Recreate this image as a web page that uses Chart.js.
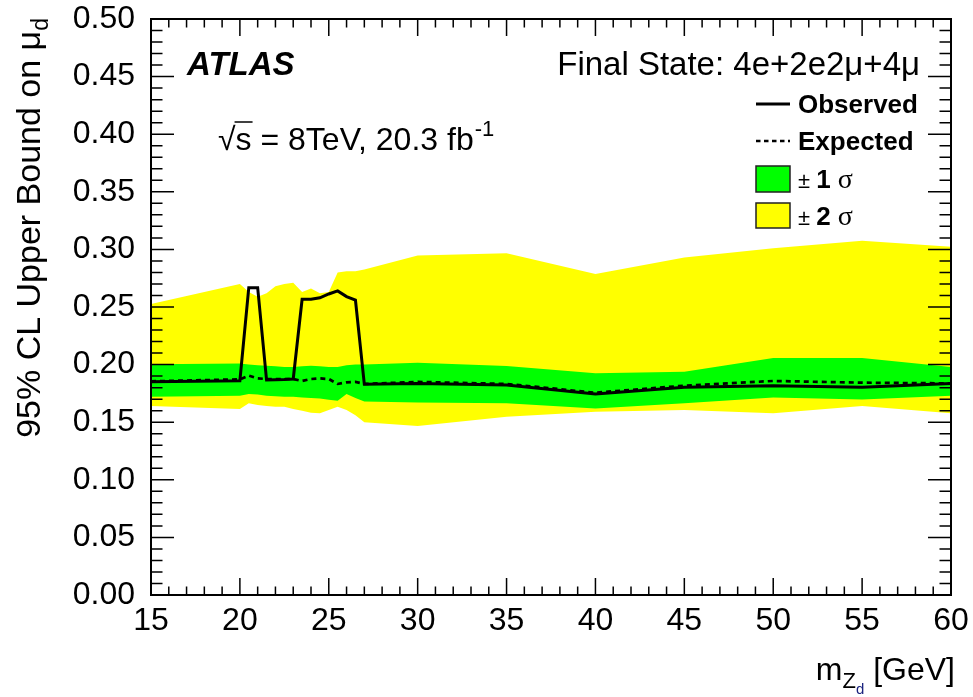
<!DOCTYPE html>
<html>
<head>
<meta charset="utf-8">
<script src="https://cdn.jsdelivr.net/npm/chart.js@4.4.1/dist/chart.umd.min.js"></script>
<style>
  html, body { margin: 0; padding: 0; background: #fff; }
  #limit { display: block; }
</style>
</head>
<body>
<canvas id="limit" width="973" height="697"></canvas>
<script>
// Z_d mass points and 95% CL limits
var MASS      = [15, 20, 20.5, 21, 21.5, 22, 22.5, 23, 23.5, 24, 24.5, 25, 25.5, 26, 26.5, 27, 30, 35, 40, 45, 50, 55, 60];
var OBSERVED  = [0.1852, 0.1860, 0.2668, 0.2668, 0.1866, 0.1868, 0.1870, 0.1875, 0.2567, 0.2567, 0.2580, 0.2613, 0.2640, 0.2590, 0.2560, 0.1829, 0.1837, 0.1823, 0.1745, 0.1803, 0.1817, 0.1803, 0.1837];
var EXPECTED  = [0.1855, 0.1872, 0.1904, 0.1880, 0.1875, 0.1875, 0.1875, 0.1875, 0.1858, 0.1875, 0.1880, 0.1875, 0.1832, 0.1846, 0.1850, 0.1832, 0.1850, 0.1832, 0.1756, 0.1817, 0.1858, 0.1843, 0.1837];
var SIGMA1_UP = [0.2002, 0.2010, 0.2000, 0.1995, 0.1990, 0.1985, 0.1980, 0.1980, 0.1985, 0.1990, 0.1985, 0.1980, 0.1980, 0.1995, 0.2000, 0.2000, 0.2017, 0.1988, 0.1924, 0.1939, 0.2057, 0.2057, 0.1980];
var SIGMA1_DN = [0.1722, 0.1730, 0.1745, 0.1740, 0.1730, 0.1725, 0.1720, 0.1720, 0.1715, 0.1710, 0.1705, 0.1695, 0.1687, 0.1745, 0.1710, 0.1680, 0.1670, 0.1664, 0.1620, 0.1664, 0.1715, 0.1698, 0.1730];
var SIGMA2_UP = [0.2526, 0.2700, 0.2630, 0.2590, 0.2620, 0.2680, 0.2700, 0.2710, 0.2630, 0.2660, 0.2620, 0.2630, 0.2800, 0.2810, 0.2810, 0.2825, 0.2946, 0.2966, 0.2787, 0.2930, 0.3010, 0.3076, 0.3024];
var SIGMA2_DN = [0.1640, 0.1615, 0.1664, 0.1650, 0.1640, 0.1635, 0.1635, 0.1615, 0.1600, 0.1583, 0.1577, 0.1606, 0.1635, 0.1606, 0.1560, 0.1500, 0.1467, 0.1548, 0.1590, 0.1606, 0.1577, 0.1640, 0.1577];

var X_TICKS = [15, 20, 25, 30, 35, 40, 45, 50, 55, 60];
var Y_TICKS = [0, 0.05, 0.10, 0.15, 0.20, 0.25, 0.30, 0.35, 0.40, 0.45, 0.50];
var X_MINOR = 1;
var Y_MINOR = 0.01;

var FONT = '"Liberation Sans", Arial, Helvetica, sans-serif';
var SERIF = '"Liberation Serif", "DejaVu Serif", serif';

function pts(vals) {
  return MASS.map(function (m, i) { return { x: m, y: vals[i] }; });
}

function isMajor(v, list) {
  return list.some(function (t) { return Math.abs(t - v) < 1e-6; });
}

function put(ctx, s, x, y, font, align) {
  ctx.font = font;
  ctx.textAlign = align || 'left';
  ctx.fillText(s, x, y);
  return ctx.measureText(s).width;
}

// frame, ROOT-style inner ticks on all four sides
var frame = {
  id: 'frame',
  afterDatasetsDraw: function (chart) {
    var ctx = chart.ctx, a = chart.chartArea;
    var xs = chart.scales.x, ys = chart.scales.y;
    ctx.save();
    ctx.strokeStyle = '#000';
    ctx.lineWidth = 1.5;
    ctx.beginPath();
    var n = Math.round((xs.max - xs.min) / X_MINOR);
    for (var i = 0; i <= n; i++) {
      var v = xs.min + i * X_MINOR;
      var px = xs.getPixelForValue(v);
      var len = isMajor(v, X_TICKS) ? 17 : 8.5;
      ctx.moveTo(px, a.bottom); ctx.lineTo(px, a.bottom - len);
      ctx.moveTo(px, a.top); ctx.lineTo(px, a.top + len);
    }
    var m = Math.round((ys.max - ys.min) / Y_MINOR);
    for (var j = 0; j <= m; j++) {
      var w = ys.min + j * Y_MINOR;
      var py = ys.getPixelForValue(w);
      var l2 = isMajor(w, Y_TICKS) ? 23 : 11.5;
      ctx.moveTo(a.left, py); ctx.lineTo(a.left + l2, py);
      ctx.moveTo(a.right, py); ctx.lineTo(a.right - l2, py);
    }
    ctx.stroke();
    ctx.lineWidth = 2;
    ctx.strokeRect(a.left, a.top, a.right - a.left, a.bottom - a.top);
    ctx.restore();
  },
  afterDraw: function (chart) {
    var ctx = chart.ctx;
    ctx.save();
    ctx.fillStyle = '#000';
    ctx.textBaseline = 'alphabetic';

    // labels in the plot
    put(ctx, 'ATLAS', 187, 75, 'italic bold 33px ' + FONT);
    put(ctx, 'Final State: 4e+2e2\u03bc+4\u03bc', 920, 75, '33px ' + FONT, 'right');

    var x = 218, y = 150;
    x += put(ctx, '\u221a', x, y, '32px ' + FONT);
    var ws = put(ctx, 's', x, y, '32px ' + FONT);
    ctx.lineWidth = 1.5;
    ctx.beginPath(); ctx.moveTo(x - 1, 122); ctx.lineTo(x + ws + 1, 122); ctx.stroke();
    x += ws;
    x += put(ctx, ' = 8TeV, 20.3 fb', x, y, '32px ' + FONT);
    put(ctx, '-1', x + 1, y - 14, '22px ' + FONT);

    // legend
    ctx.strokeStyle = '#000';
    ctx.lineWidth = 3;
    ctx.beginPath(); ctx.moveTo(756, 104); ctx.lineTo(790, 104); ctx.stroke();
    ctx.lineWidth = 2.5;
    ctx.setLineDash([4.5, 3.5]);
    ctx.beginPath(); ctx.moveTo(756, 141); ctx.lineTo(790, 141); ctx.stroke();
    ctx.setLineDash([]);
    put(ctx, 'Observed', 798, 113, 'bold 26px ' + FONT);
    put(ctx, 'Expected', 798, 150, 'bold 26px ' + FONT);

    ctx.lineWidth = 1.5;
    ctx.strokeStyle = '#222';
    ctx.fillStyle = '#00ff00';
    ctx.fillRect(756, 166, 34, 26); ctx.strokeRect(756, 166, 34, 26);
    ctx.fillStyle = '#ffff00';
    ctx.fillRect(756, 203, 34, 25); ctx.strokeRect(756, 203, 34, 25);
    ctx.fillStyle = '#000';
    [['1', 188], ['2', 225]].forEach(function (r) {
      var lx = 798;
      lx += put(ctx, '\u00b1 ', lx, r[1], '22px ' + FONT);
      lx += put(ctx, r[0], lx, r[1], 'bold 26px ' + FONT);
      put(ctx, ' \u03c3', lx, r[1], '28px ' + SERIF);
    });

    // y title, ROOT style: right-aligned to the top of the axis
    ctx.save();
    ctx.translate(40, 18);
    ctx.rotate(-Math.PI / 2);
    ctx.font = '34px ' + FONT;
    var t1 = '95% CL Upper Bound on \u03bc';
    var w1 = ctx.measureText(t1).width;
    ctx.font = '23px ' + FONT;
    var w2 = ctx.measureText('d').width;
    put(ctx, t1, -(w1 + w2), 0, '34px ' + FONT);
    put(ctx, 'd', -w2, 8, '23px ' + FONT);
    ctx.restore();

    // x title
    var parts = [['m', '32px ' + FONT, 0, '#000'], ['Z', '22px ' + FONT, 8, '#000'],
                 ['d', '15px ' + FONT, 14, '#1a237e'], [' [GeV]', '32px ' + FONT, 0, '#000']];
    var total = 0;
    parts.forEach(function (p) { ctx.font = p[1]; total += ctx.measureText(p[0]).width; });
    var tx = 955 - total;
    parts.forEach(function (p) {
      ctx.fillStyle = p[3];
      tx += put(ctx, p[0], tx, 680 + p[2], p[1]);
    });
    ctx.restore();
  }
};

var ctx = document.getElementById('limit').getContext('2d');

new Chart(ctx, {
  type: 'line',
  data: {
    datasets: [
      { label: 'Observed', data: pts(OBSERVED), borderColor: '#000', borderWidth: 3, fill: false, order: 0 },
      { label: 'Expected', data: pts(EXPECTED), borderColor: '#000', borderWidth: 2.7, borderDash: [5, 4], fill: false, order: 1 },
      { label: '\u00b11\u03c3', data: pts(SIGMA1_UP), borderColor: 'rgba(0,0,0,0)', borderWidth: 0, backgroundColor: '#00ff00', fill: '+1', order: 2 },
      { label: '', data: pts(SIGMA1_DN), borderColor: 'rgba(0,0,0,0)', borderWidth: 0, fill: false, order: 3 },
      { label: '\u00b12\u03c3', data: pts(SIGMA2_UP), borderColor: 'rgba(0,0,0,0)', borderWidth: 0, backgroundColor: '#ffff00', fill: '+1', order: 4 },
      { label: '', data: pts(SIGMA2_DN), borderColor: 'rgba(0,0,0,0)', borderWidth: 0, fill: false, order: 5 }
    ]
  },
  options: {
    responsive: false,
    animation: false,
    devicePixelRatio: 1,
    layout: { padding: { top: 19, right: 22, left: 0, bottom: 0 } },
    elements: { line: { tension: 0 }, point: { radius: 0 } },
    plugins: {
      legend: { display: false },
      tooltip: { enabled: false },
      title: { display: false }
    },
    scales: {
      x: {
        type: 'linear',
        min: 15,
        max: 60,
        grid: { display: false, drawTicks: false },
        border: { display: false },
        afterBuildTicks: function (s) { s.ticks = X_TICKS.map(function (v) { return { value: v }; }); },
        afterFit: function (s) { s.height = 102; s.paddingLeft = 0; s.paddingRight = 0; },
        ticks: { font: { family: FONT, size: 32 }, color: '#000', padding: 7, maxRotation: 0, autoSkip: false }
      },
      y: {
        min: 0,
        max: 0.5,
        grid: { display: false, drawTicks: false },
        border: { display: false },
        afterBuildTicks: function (s) { s.ticks = Y_TICKS.map(function (v) { return { value: v }; }); },
        afterFit: function (s) { s.width = 151; s.paddingTop = 0; s.paddingBottom = 0; },
        ticks: {
          font: { family: FONT, size: 32 }, color: '#000', padding: 16, autoSkip: false,
          callback: function (v) { return v.toFixed(2); }
        }
      }
    }
  },
  plugins: [frame]
});
</script>
</body>
</html>
